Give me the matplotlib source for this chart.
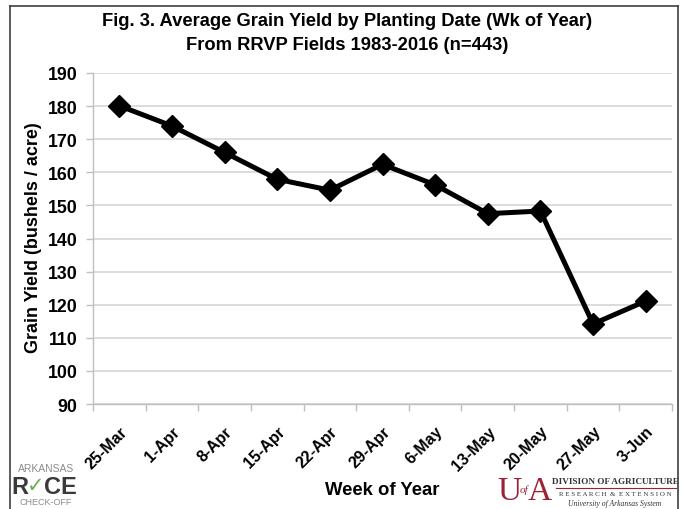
import matplotlib.pyplot as plt
from matplotlib.lines import Line2D

# data
weeks = ['25-Mar', '1-Apr', '8-Apr', '15-Apr', '22-Apr', '29-Apr',
         '6-May', '13-May', '20-May', '27-May', '3-Jun']
yield_bu = [180.1, 174.0, 166.0, 157.9, 154.6, 162.4,
            156.2, 147.5, 148.3, 114.2, 121.1]
y_ticks = [90, 100, 110, 120, 130, 140, 150, 160, 170, 180, 190]

plt.rcParams['font.family'] = ['Liberation Sans', 'DejaVu Sans']

fig = plt.figure(figsize=(6.86, 5.10), dpi=100)
ax = fig.add_axes([93/686, 1 - 405/510, (672 - 93)/686, (405 - 74)/510])

x = list(range(len(weeks)))
ax.plot(x, yield_bu, color='black', linewidth=3.6, marker='D',
        markersize=11, markeredgewidth=1, zorder=5)

ax.set_xlim(-0.5, len(weeks) - 0.5)
ax.set_ylim(y_ticks[0], y_ticks[-1])
ax.set_yticks(y_ticks)
ax.set_yticklabels([str(v) for v in y_ticks], fontsize=12.8, fontweight='bold')
ax.set_xticks(x)
ax.set_xticklabels(weeks, rotation=45, ha='right', va='top',
                   rotation_mode='anchor', fontsize=11.5, fontweight='bold')
ax.tick_params(axis='x', length=0, pad=14)
ax.tick_params(axis='y', length=5, color='#bfbfbf', width=1, pad=6)
# category boundary ticks
ax.set_xticks([i - 0.5 for i in range(len(weeks) + 1)], minor=True)
ax.tick_params(axis='x', which='minor', length=5, color='#bfbfbf', width=1)

ax.yaxis.grid(True, color='#d9d9d9', linewidth=1.3)
ax.set_axisbelow(True)
for side in ['top', 'right']:
    ax.spines[side].set_visible(False)
for side in ['left', 'bottom']:
    ax.spines[side].set_color('#bfbfbf')
    ax.spines[side].set_linewidth(1)

fig.text(34/686, 1 - 238/510, 'Grain Yield (bushels / acre)', rotation=90,
         ha='center', va='center', fontsize=13, fontweight='bold')
fig.text(382/686, 1 - 491/510, 'Week of Year', ha='center', va='center',
         fontsize=13.3, fontweight='bold')

fig.text(347/686, 1 - 21/510, 'Fig. 3. Average Grain Yield by Planting Date (Wk of Year)',
         ha='center', va='center', fontsize=13.2, fontweight='bold')
fig.text(347/686, 1 - 45/510, 'From RRVP Fields 1983-2016 (n=443)',
         ha='center', va='center', fontsize=13.2, fontweight='bold')

# frame around the picture
for xs, ys in [([10, 10], [7, 520]), ([10, 678], [7, 7]), ([678, 678], [7, 520])]:
    fig.add_artist(Line2D([v/686 for v in xs], [1 - v/510 for v in ys],
                          color='#404040', linewidth=1.2))

# left logo
fig.text(46/686, 1 - 469/510, 'ARKANSAS', ha='center', va='center',
         fontsize=7.5, color='#8c8c8c')
fig.text(11/686, 1 - 487/510, 'R', ha='left', va='center', fontsize=17,
         fontweight='bold', color='#3a3a3a')
fig.text(27/686, 1 - 486/510, '\u2713', ha='left', va='center', fontsize=15,
         fontweight='bold', color='#6ab04c', family='DejaVu Sans')
fig.text(44/686, 1 - 487/510, 'CE', ha='left', va='center', fontsize=17,
         fontweight='bold', color='#3a3a3a')
fig.text(46/686, 1 - 503/510, 'CHECK-OFF', ha='center', va='center',
         fontsize=6.5, color='#8c8c8c')

# right logo
crimson = '#9d2235'
fig.text(497/686, 1 - 492/510, 'U', ha='left', va='center', fontsize=24,
         color=crimson, family='Liberation Serif')
fig.text(520/686, 1 - 490/510, 'of', ha='left', va='center', fontsize=8,
         color=crimson, family='Liberation Serif', style='italic')
fig.text(528/686, 1 - 492/510, 'A', ha='left', va='center', fontsize=24,
         color=crimson, family='Liberation Serif')
fig.text(615/686, 1 - 482/510, 'DIVISION OF AGRICULTURE', ha='center', va='center',
         fontsize=6.6, fontweight='bold', color='#333333', family='Liberation Serif')
fig.add_artist(Line2D([556/686, 676/686], [1 - 489/510, 1 - 489/510],
                      color=crimson, linewidth=0.8))
fig.text(615/686, 1 - 495/510, 'R E S E A R C H  &  E X T E N S I O N',
         ha='center', va='center', fontsize=5, color='#333333',
         family='Liberation Serif')
fig.text(615/686, 1 - 504/510, 'University of Arkansas System', ha='center',
         va='center', fontsize=5.5, style='italic', color='#333333',
         family='Liberation Serif')

fig.savefig('out.png', dpi=100)
